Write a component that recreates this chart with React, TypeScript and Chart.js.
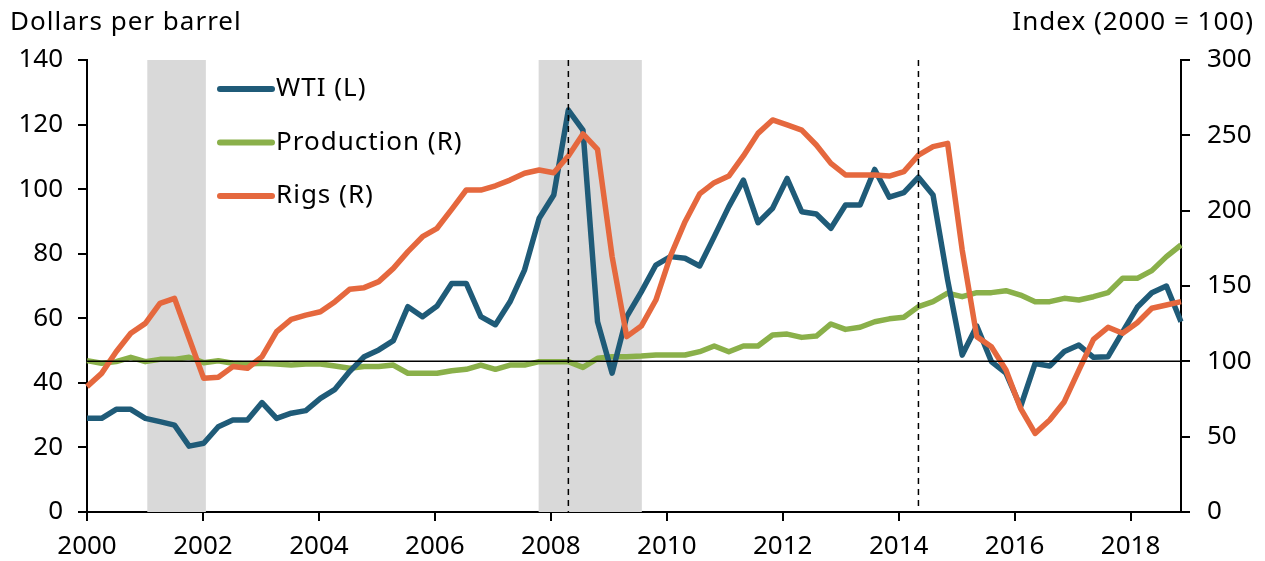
import React, { useEffect, useRef } from "react";
import { Chart, registerables } from "chart.js";

Chart.register(...registerables);

// Quarterly categories 2000Q1 .. 2018Q4
const startYear = 2000;
const quarterCount = 76;
const quarters: string[] = Array.from({ length: quarterCount }, (_, i) => `${startYear + Math.floor(i / 4)}Q${(i % 4) + 1}`);

// WTI price, dollars per barrel (left axis)
const wti = [29.0, 29.0, 31.8, 31.8, 29.0, 28.0, 26.9, 20.4, 21.3, 26.4,
  28.5, 28.5, 33.9, 29.0, 30.6, 31.4, 35.2, 38.0, 43.5, 48.1,
  50.2, 53.1, 63.6, 60.5, 63.8, 70.8, 70.8, 60.5, 58.0, 65.1,
  75.0, 91.0, 98.2, 124.5, 118.3, 58.9, 43.0, 60.5, 68.2, 76.5,
  79.1, 78.6, 76.2, 85.3, 94.6, 102.8, 89.6, 94.1, 103.3, 93.0,
  92.3, 87.9, 95.1, 95.1, 106.1, 97.5, 98.9, 103.7, 98.2, 71.9,
  48.6, 57.6, 46.6, 43.0, 32.6, 46.0, 45.2, 49.7, 51.7, 47.9,
  48.1, 55.8, 63.4, 67.9, 70.0, 58.9];

// Production index, 2000 = 100 (right axis)
const production = [100.5, 98.7, 99.8, 102.7, 99.8, 101.3, 101.3, 102.7, 99.1, 100.4,
  98.7, 98.2, 98.7, 98.2, 97.5, 98.2, 98.2, 96.9, 95.4, 96.5,
  96.5, 97.5, 92.1, 92.1, 92.1, 93.8, 94.7, 97.5, 94.7, 97.5,
  97.5, 99.8, 99.8, 99.8, 96.0, 102.0, 103.1, 103.1, 103.5, 104.2,
  104.2, 104.2, 106.4, 110.2, 106.4, 110.2, 110.2, 117.5, 118.1, 115.9,
  116.8, 124.8, 121.2, 122.6, 126.3, 128.2, 129.2, 136.3, 139.6, 145.2,
  142.9, 145.6, 145.6, 146.9, 144.0, 139.6, 139.6, 141.8, 140.7, 142.9,
  145.6, 155.1, 155.1, 160.2, 169.5, 177.2];

// Rig count index, 2000 = 100 (right axis)
const rigs = [83.2, 92.0, 106.4, 118.6, 125.2, 138.5, 141.8, 115.3, 88.7, 89.4,
  96.5, 95.4, 103.1, 119.7, 127.9, 130.7, 132.9, 139.6, 147.8, 148.9,
  152.9, 161.7, 172.8, 182.7, 188.3, 200.9, 213.7, 213.7, 216.5, 220.3,
  224.8, 227.0, 225.2, 236.3, 250.9, 240.7, 169.5, 116.4, 123.4, 140.7,
  169.9, 192.7, 211.1, 218.6, 223.0, 236.3, 251.3, 260.2, 256.9, 253.5,
  243.6, 231.4, 223.7, 223.7, 223.7, 223.0, 225.9, 236.9, 242.5, 244.7,
  173.9, 116.4, 109.7, 94.2, 68.8, 52.2, 61.1, 73.2, 94.2, 114.6,
  122.6, 118.6, 125.6, 135.2, 137.4, 139.6];

// Year tick labels
const yearTicks = [2000, 2002, 2004, 2006, 2008, 2010, 2012, 2014, 2016, 2018];
const yearAxisMax = 2018.87;

// Recessions (in years on the date axis)
const recessionStarts = [2001.04, 2007.79];
const recessionEnds = [2002.05, 2009.57];

// Dashed event markers (quarter categories)
const eventQuarters = ["2008Q2", "2014Q2"];
const referenceIndex = 100;

const COLORS = { wti: "#1F5B78", production: "#8AB04A", rigs: "#E5683E" };
const FONT = "'Noto Sans', 'DejaVu Sans', sans-serif";
const FONT_SIZE = 26;

const seriesNames = ["WTI (L)", "Production (R)", "Rigs (R)"];

export default function App() {
  const canvasRef = useRef<HTMLCanvasElement | null>(null);

  useEffect(() => {
    const canvas = canvasRef.current;
    if (!canvas) return;

    const overlayPlugin = {
      id: "overlay",
      beforeDatasetsDraw(chart: any) {
        const { ctx, chartArea } = chart;
        const x2 = chart.scales.x2;
        ctx.save();
        ctx.fillStyle = "#D9D9D9";
        for (let i = 0; i < recessionStarts.length; i++) {
          const a = x2.getPixelForValue(recessionStarts[i]);
          const b = x2.getPixelForValue(recessionEnds[i]);
          ctx.fillRect(a, chartArea.top, b - a, chartArea.bottom - chartArea.top);
        }
        ctx.restore();
      },
      afterDatasetsDraw(chart: any) {
        const { ctx, chartArea } = chart;
        const xs = chart.scales.x;
        const y1 = chart.scales.y1;
        ctx.save();
        const yRef = y1.getPixelForValue(referenceIndex);
        ctx.strokeStyle = "#000";
        ctx.lineWidth = 1.5;
        ctx.beginPath();
        ctx.moveTo(chartArea.left, yRef);
        ctx.lineTo(chartArea.right, yRef);
        ctx.stroke();
        ctx.setLineDash([6, 5]);
        ctx.lineWidth = 1.5;
        for (const q of eventQuarters) {
          const px = xs.getPixelForValue(quarters.indexOf(q));
          ctx.beginPath();
          ctx.moveTo(px, chartArea.top);
          ctx.lineTo(px, chartArea.bottom);
          ctx.stroke();
        }
        ctx.setLineDash([]);
        ctx.restore();
      },
      afterDraw(chart: any) {
        const { ctx } = chart;
        ctx.save();
        ctx.font = `${FONT_SIZE}px ${FONT}`;
        (ctx as any).letterSpacing = "1px";
        ctx.fillStyle = "#000";
        ctx.textBaseline = "middle";
        ctx.textAlign = "left";
        ctx.fillText("Dollars per barrel", 10, 23);
        ctx.textAlign = "right";
        ctx.fillText("Index (2000 = 100)", 1254, 23);
        const colors = [COLORS.wti, COLORS.production, COLORS.rigs];
        const rows = [89, 142.5, 196];
        ctx.lineCap = "round";
        ctx.lineWidth = 6;
        for (let i = 0; i < seriesNames.length; i++) {
          ctx.strokeStyle = colors[i];
          ctx.beginPath();
          ctx.moveTo(220, rows[i]);
          ctx.lineTo(272, rows[i]);
          ctx.stroke();
          ctx.textAlign = "left";
          ctx.fillText(seriesNames[i], 276, rows[i]);
        }
        (ctx as any).letterSpacing = "0px";
        ctx.restore();
      },
    };

    const tickFont = { family: FONT, size: FONT_SIZE };

    const chart = new Chart(canvas, {
      type: "line",
      data: {
        labels: quarters,
        datasets: [
          { label: "WTI (L)", data: wti, yAxisID: "y", xAxisID: "x", borderColor: COLORS.wti, borderWidth: 5.5, pointRadius: 0, tension: 0, borderJoinStyle: "round", order: 1 },
          { label: "Production (R)", data: production, yAxisID: "y1", xAxisID: "x", borderColor: COLORS.production, borderWidth: 5.5, pointRadius: 0, tension: 0, borderJoinStyle: "round", order: 2 },
          { label: "Rigs (R)", data: rigs, yAxisID: "y1", xAxisID: "x", borderColor: COLORS.rigs, borderWidth: 5.5, pointRadius: 0, tension: 0, borderJoinStyle: "round", order: 0 },
        ],
      },
      options: {
        responsive: false,
        animation: false,
        devicePixelRatio: 1,
        layout: { padding: { top: 60, left: 0, right: 0, bottom: 0 } },
        plugins: { legend: { display: false }, tooltip: { enabled: false }, title: { display: false } },
        scales: {
          x: { type: "category", display: false, offset: false },
          x2: {
            type: "linear",
            position: "bottom",
            min: startYear,
            max: yearAxisMax,
            afterBuildTicks: (s: any) => { s.ticks = yearTicks.map((v) => ({ value: v })); },
            afterFit: (s: any) => { s.height = 49; },
            ticks: { color: "#000", font: tickFont, padding: 10, maxRotation: 0, autoSkip: false, callback: (v: any) => String(v) },
            grid: { drawOnChartArea: false, drawTicks: true, tickLength: 9, lineWidth: 2, color: "#000" },
            border: { display: true, color: "#000", width: 2 },
          },
          y: {
            position: "left",
            min: 0,
            max: 140,
            afterFit: (s: any) => { s.width = 87; },
            ticks: { stepSize: 20, color: "#000", font: tickFont, padding: 15 },
            grid: { drawOnChartArea: false, drawTicks: true, tickLength: 9, lineWidth: 2, color: "#000" },
            border: { display: true, color: "#000", width: 2 },
          },
          y1: {
            position: "right",
            min: 0,
            max: 300,
            afterFit: (s: any) => { s.width = 84; },
            ticks: { stepSize: 50, color: "#000", font: tickFont, padding: 17 },
            grid: { drawOnChartArea: false, drawTicks: true, tickLength: 9, lineWidth: 2, color: "#000" },
            border: { display: true, color: "#000", width: 2 },
          },
        },
      },
      plugins: [overlayPlugin],
    } as any);

    return () => chart.destroy();
  }, []);

  return (
    <div style={{ position: "fixed", left: 0, top: 0, width: 1265, height: 561, background: "#fff" }}>
      <canvas ref={canvasRef} width={1265} height={561} style={{ width: 1265, height: 561, display: "block" }} />
    </div>
  );
}
